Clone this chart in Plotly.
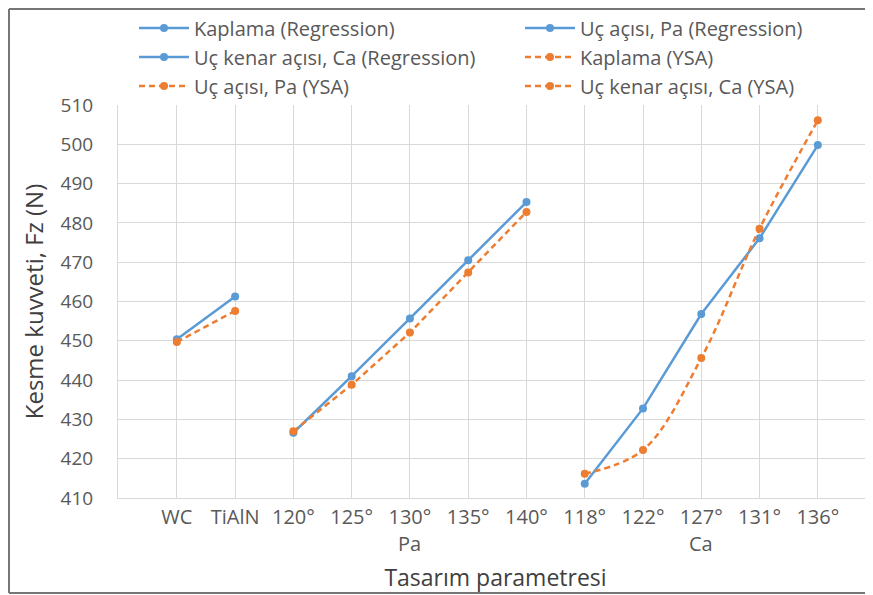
import plotly.graph_objects as go

# ---- data ----
categories = ["WC", "TiAlN", "120°", "125°", "130°", "135°", "140°",
              "118°", "122°", "127°", "131°", "136°"]
kaplama_idx = [0, 1]
pa_idx = [2, 3, 4, 5, 6]
ca_idx = [7, 8, 9, 10, 11]

kaplama_reg = [450.4, 461.3]
kaplama_ysa = [449.7, 457.6]
pa_reg = [426.6, 441.0, 455.7, 470.5, 485.3]
pa_ysa = [427.0, 438.8, 452.1, 467.4, 482.8]
ca_reg = [413.6, 432.8, 456.8, 476.1, 499.8]
ca_ysa = [416.2, 422.2, 445.6, 478.5, 506.1]

group_labels = ["Pa", "Ca"]
group_centers = [4, 9]

BLUE = "#5B9BD5"
ORANGE = "#ED7D31"
FONT = "Open Sans"

# page body keeps its default 8px margin: the figure starts 8px in from the window corner
OFF = 8
WIN_W, WIN_H = 873, 595
W, H = WIN_W - OFF, WIN_H - OFF
# plot area in window pixels
P_L, P_R, P_T, P_B = 118, WIN_W, 105, 498
ML, MR, MT, MB = P_L - OFF, (W + OFF) - P_R, P_T - OFF, (H + OFF) - P_B
PW, PH = W - ML - MR, H - MT - MB
PX_PER_CAT = 58.27
X0 = -1.01
X1 = X0 + PW / PX_PER_CAT


def px_x(p):
    return (p - OFF - ML) / PW


def px_y(p):
    return (H - MB - (p - OFF)) / PH


fig = go.Figure()

# (name, x, y, color, dash, shape, legend column x, legend row y) in window px
series = [
    ("Kaplama (Regression)", kaplama_idx, kaplama_reg, BLUE, "solid", "linear", 134, 28),
    ("Uç açısı, Pa (Regression)", pa_idx, pa_reg, BLUE, "solid", "linear", 520, 28),
    ("Uç kenar açısı, Ca (Regression)", ca_idx, ca_reg, BLUE, "solid", "linear", 134, 57),
    ("Kaplama (YSA)", kaplama_idx, kaplama_ysa, ORANGE, "6px,4px", "linear", 520, 57),
    ("Uç açısı, Pa (YSA)", pa_idx, pa_ysa, ORANGE, "6px,4px", "linear", 134, 86),
    ("Uç kenar açısı, Ca (YSA)", ca_idx, ca_ysa, ORANGE, "6px,4px", "spline", 520, 86),
]

legends = {}
for i, (name, xs, ys, color, dash, shape, lx, ly) in enumerate(series):
    key = "legend" if i == 0 else f"legend{i + 1}"
    fig.add_trace(go.Scatter(
        x=xs, y=ys, name=name, mode="lines+markers",
        line=dict(color=color, width=2.5, dash=dash, shape=shape),
        marker=dict(color=color, size=8, symbol="circle"),
        legend=key, showlegend=True,
    ))
    legends[key] = dict(
        x=px_x(lx), y=px_y(ly), xanchor="left", yanchor="middle",
        orientation="v", font=dict(family=FONT, size=20, color="#595959"),
        bgcolor="rgba(0,0,0,0)", itemwidth=50, itemclick=False,
    )

fig.update_layout(
    width=W, height=H,
    margin=dict(l=ML, r=MR, t=MT, b=MB),
    paper_bgcolor="white", plot_bgcolor="white",
    font=dict(family=FONT, size=18, color="#595959"),
    xaxis=dict(
        range=[X0, X1], tickvals=list(range(len(categories))),
        ticktext=categories, showgrid=True, gridcolor="#D9D9D9", gridwidth=1,
        showline=True, linecolor="#D9D9D9", linewidth=1, zeroline=False,
        ticks="", ticklabelstandoff=1,
        tickfont=dict(family=FONT, size=20, color="#595959"),
        title=dict(text="Tasarım parametresi", standoff=40,
                   font=dict(family=FONT, size=23, color="#404040")),
    ),
    yaxis=dict(
        range=[410, 510], dtick=10, showgrid=True, gridcolor="#D9D9D9",
        gridwidth=1, showline=True, linecolor="#D9D9D9", linewidth=1,
        zeroline=False, ticks="", ticklabelstandoff=20,
        tickfont=dict(family=FONT, size=19, color="#595959"),
        title=dict(text="Kesme kuvveti, Fz (N)", standoff=10,
                   font=dict(family=FONT, size=24, color="#404040")),
    ),
    **legends,
)

for lab, cx in zip(group_labels, group_centers):
    fig.add_annotation(x=cx, xref="x", y=px_y(543), yref="paper", text=lab,
                       showarrow=False, xanchor="center", yanchor="middle",
                       font=dict(family=FONT, size=20, color="#595959"))

# outer chart frame (cropped on the right)
frame = dict(color="#767676", width=2)
fx0, fy0, fy1 = px_x(OFF + 1), px_y(OFF + 1), px_y(593)
fig.add_shape(type="line", xref="paper", yref="paper", x0=fx0, x1=1.0,
              y0=fy0, y1=fy0, line=frame)
fig.add_shape(type="line", xref="paper", yref="paper", x0=fx0, x1=1.0,
              y0=fy1, y1=fy1, line=frame)
fig.add_shape(type="line", xref="paper", yref="paper", x0=fx0, x1=fx0,
              y0=fy0, y1=fy1, line=frame)

fig.write_html("out.html")
